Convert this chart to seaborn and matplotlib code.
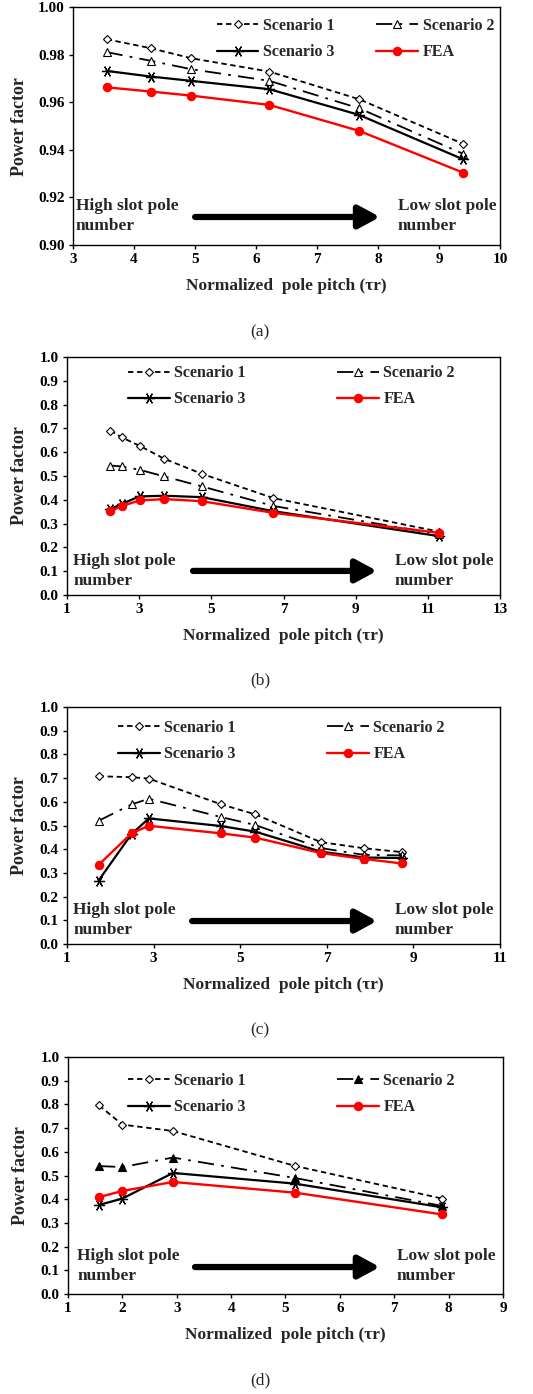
import numpy as np
import pandas as pd
import matplotlib
matplotlib.use("Agg")
import matplotlib.pyplot as plt
import seaborn as sns

# ---------------- data ----------------
# Panel (a)
xa = [3.55, 4.28, 4.94, 6.22, 7.69, 9.40]
a_s1 = [0.9865, 0.9827, 0.9785, 0.9729, 0.9613, 0.9425]
a_s2 = [0.9811, 0.9774, 0.9739, 0.9690, 0.9575, 0.9383]
a_s3 = [0.9732, 0.9708, 0.9690, 0.9655, 0.9547, 0.9360]
a_fea = [0.9663, 0.9645, 0.9628, 0.9589, 0.9480, 0.9304]

# Panel (b)
xb = [2.20, 2.52, 3.01, 3.70, 4.74, 6.72, 11.32]
b_s1 = [0.691, 0.662, 0.627, 0.572, 0.509, 0.407, 0.266]
b_s2 = [0.544, 0.540, 0.526, 0.498, 0.456, 0.374, 0.255]
b_s3 = [0.360, 0.383, 0.414, 0.417, 0.411, 0.352, 0.247]
b_fea = [0.353, 0.374, 0.397, 0.403, 0.394, 0.345, 0.261]

# Panel (c)
xc = [1.73, 2.49, 2.89, 4.55, 5.35, 6.86, 7.86, 8.73]
c_s1 = [0.708, 0.704, 0.698, 0.590, 0.547, 0.430, 0.404, 0.388]
c_s2 = [0.520, 0.589, 0.613, 0.536, 0.502, 0.405, 0.376, 0.374]
c_s3 = [0.268, 0.464, 0.530, 0.498, 0.474, 0.390, 0.365, 0.363]
c_fea = [0.334, 0.467, 0.499, 0.467, 0.449, 0.384, 0.359, 0.340]

# Panel (d)
xd = [1.57, 2.00, 2.93, 5.17, 7.88]
d_s1 = [0.796, 0.715, 0.688, 0.541, 0.403]
d_s2 = [0.540, 0.536, 0.576, 0.490, 0.372]
d_s3 = [0.376, 0.403, 0.511, 0.466, 0.366]
d_fea = [0.409, 0.435, 0.473, 0.428, 0.336]

series_names = ["Scenario 1", "Scenario 2", "Scenario 3", "FEA"]
panel_labels = ["(a)", "(b)", "(c)", "(d)"]
xlabel_text = "Normalized  pole pitch (\u03c4r)"
ylabel_text = "Power factor"
left_note = "High slot pole\nnumber"
right_note = "Low slot pole\nnumber"

# ---------------- style ----------------
sns.set_style("ticks")
plt.rcParams["font.family"] = ["Liberation Serif", "DejaVu Serif"]
plt.rcParams["font.weight"] = "bold"
plt.rcParams["axes.labelweight"] = "bold"
plt.rcParams["axes.edgecolor"] = "black"
plt.rcParams["xtick.color"] = "black"
plt.rcParams["ytick.color"] = "black"
plt.rcParams["axes.linewidth"] = 1.0

fig = plt.figure(figsize=(5.33, 13.94), dpi=100)

panels = [
    dict(x=xa, ys=[a_s1, a_s2, a_s3, a_fea], rect=[0.137, 0.8242, 0.801, 0.1707],
         xlim=(3, 10), xticks=np.arange(3, 11, 1), ylim=(0.90, 1.00),
         yticks=np.arange(0.90, 1.001, 0.02), yfmt="{:.2f}", s2_filled=False,
         leg=(0.337, 0.955), colsp=2.6, arrow=(0.286, 0.719, 0.118), notes=(0.007, 0.761, 0.122),
         label_y=332, ylab_x=-0.105),
    dict(x=xb, ys=[b_s1, b_s2, b_s3, b_fea], rect=[0.1257, 0.5732, 0.8124, 0.1707],
         xlim=(1, 13), xticks=np.arange(1, 14, 2), ylim=(0, 1.0),
         yticks=np.arange(0, 1.01, 0.1), yfmt="{:.1f}", s2_filled=False,
         leg=(0.141, 0.966), colsp=5.7, arrow=(0.291, 0.716, 0.101), notes=(0.014, 0.757, 0.100),
         label_y=680, ylab_x=-0.09),
    dict(x=xc, ys=[c_s1, c_s2, c_s3, c_fea], rect=[0.1257, 0.3228, 0.8124, 0.1700],
         xlim=(1, 11), xticks=np.arange(1, 12, 2), ylim=(0, 1.0),
         yticks=np.arange(0, 1.01, 0.1), yfmt="{:.1f}", s2_filled=False,
         leg=(0.118, 0.945), colsp=5.7, arrow=(0.289, 0.716, 0.097), notes=(0.014, 0.757, 0.101),
         label_y=1030, ylab_x=-0.09),
    dict(x=xd, ys=[d_s1, d_s2, d_s3, d_fea], rect=[0.1276, 0.0717, 0.816, 0.1700],
         xlim=(1, 9), xticks=np.arange(1, 10, 1), ylim=(0, 1.0),
         yticks=np.arange(0, 1.01, 0.1), yfmt="{:.1f}", s2_filled=True,
         leg=(0.138, 0.934), colsp=5.7, arrow=(0.292, 0.717, 0.114), notes=(0.021, 0.756, 0.118),
         label_y=1380, ylab_x=-0.09),
]

for p, plab in zip(panels, panel_labels):
    ax = fig.add_axes(p["rect"])
    x = p["x"]
    s1, s2, s3, fea = p["ys"]
    sns.lineplot(x=x, y=s1, ax=ax, color="black", lw=1.3, linestyle=(0, (3, 2)),
                 marker="D", ms=4, markerfacecolor="white", markeredgecolor="black",
                 markeredgewidth=0.8, label=series_names[0])
    sns.lineplot(x=x, y=s2, ax=ax, color="black", lw=1.3, linestyle=(0, (9, 4, 1.5, 4)),
                 marker="^", ms=6, markerfacecolor=("black" if p["s2_filled"] else "white"),
                 markeredgecolor="black", markeredgewidth=0.8, label=series_names[1])
    sns.lineplot(x=x, y=s3, ax=ax, color="black", lw=1.6, linestyle="-",
                 marker=(6, 2, 90), ms=8, markeredgecolor="black",
                 markeredgewidth=0.9, label=series_names[2])
    sns.lineplot(x=x, y=fea, ax=ax, color="red", lw=1.7, linestyle="-",
                 marker="o", ms=6, markerfacecolor="red", markeredgecolor="red",
                 markeredgewidth=0.8, label=series_names[3])

    ax.set_xlim(*p["xlim"])
    ax.set_ylim(*p["ylim"])
    ax.set_xticks(p["xticks"])
    ax.set_xticklabels([str(int(v)) for v in p["xticks"]], fontsize=11, fontweight="bold")
    ax.set_yticks(p["yticks"])
    ax.set_yticklabels([p["yfmt"].format(v) for v in p["yticks"]], fontsize=11, fontweight="bold")
    ax.tick_params(direction="out", length=3, width=1, pad=3)
    for sp in ax.spines.values():
        sp.set_visible(True)
        sp.set_color("black")
        sp.set_linewidth(1.0)

    ax.set_xlabel(xlabel_text, fontsize=12.5, fontweight="bold")
    ax.xaxis.set_label_coords(0.5, -0.14)
    ax.set_ylabel(ylabel_text, fontsize=13, fontweight="bold")
    ax.yaxis.set_label_coords(p["ylab_x"], 0.5)

    handles, labels = ax.get_legend_handles_labels()
    order = [0, 2, 1, 3]
    ax.legend([handles[i] for i in order], [labels[i] for i in order], ncol=2,
              frameon=False, loc="upper left", bbox_to_anchor=p["leg"],
              borderaxespad=0, borderpad=0, handlelength=2.6, handletextpad=0.3,
              columnspacing=p["colsp"], labelspacing=0.65,
              prop=dict(family="Liberation Serif", weight="bold", size=11.5))

    x0, x1, ya = p["arrow"]
    ax.annotate("", xy=(x1, ya), xytext=(x0, ya), xycoords="axes fraction",
                arrowprops=dict(arrowstyle="-|>,head_length=0.7,head_width=0.38",
                                lw=4.5, color="black", mutation_scale=18,
                                shrinkA=0, shrinkB=0))
    nl, nr, ny = p["notes"]
    ax.text(nl, ny, left_note, transform=ax.transAxes, ha="left", va="center",
            fontsize=12.5, fontweight="bold", linespacing=1.3)
    ax.text(nr, ny, right_note, transform=ax.transAxes, ha="left", va="center",
            fontsize=12.5, fontweight="bold", linespacing=1.3)

    fig.text(260 / 533, 1 - p["label_y"] / 1394, plab, ha="center", va="center",
             fontsize=12.5, fontweight="normal")

fig.savefig("out.png", dpi=100)
